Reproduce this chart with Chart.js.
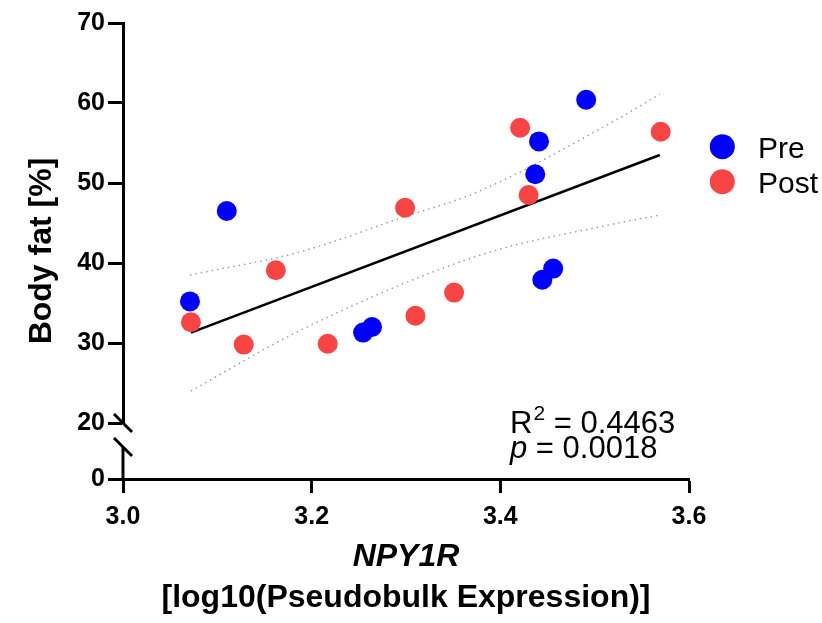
<!DOCTYPE html>
<html>
<head>
<meta charset="utf-8">
<script src="https://cdn.jsdelivr.net/npm/chart.js@4"></script>
<style>
    html, body { margin: 0; padding: 0; background: #fff; }
    #wrap { width: 822px; height: 623px; position: relative; }
</style>
</head>
<body>
<div id="wrap"><canvas id="chart"></canvas></div>
<script>
// Values
const preX  = [3.071, 3.110, 3.2545, 3.264, 3.441, 3.437, 3.491, 3.4445, 3.456];
const preY  = [35.2, 46.5, 31.3, 32.0, 55.2, 51.1, 60.4, 37.9, 39.3];
const postX = [3.072, 3.128, 3.162, 3.217, 3.299, 3.310, 3.351, 3.421, 3.430, 3.570];
const postY = [32.6, 29.8, 39.1, 29.9, 46.9, 33.4, 36.3, 56.9, 48.5, 56.4];

// regression line and 95% band, read at a few x positions
const fitX   = [3.072, 3.569];
const fitY   = [31.3, 53.5];
const upperX = [3.071, 3.188, 3.294, 3.376, 3.517, 3.569];
const upperY = [38.5, 41.4, 45.6, 48.9, 57.5, 61.1];
const lowerX = [3.072, 3.190, 3.379, 3.517, 3.569];
const lowerY = [24.0, 31.7, 41.0, 44.8, 46.0];

const xTicks = [3.0, 3.2, 3.4, 3.6];
const yTicks = [20, 30, 40, 50, 60, 70];
const yLowTicks = [0];
const lowSegmentTop = 4;   // where the short lower axis piece stops

const seriesNames = ['Pre', 'Post'];
const seriesColors = ['#0000ff', '#f94444'];
const yTitle = 'Body fat [%]';
const xTitle1 = 'NPY1R';
const xTitle2 = '[log10(Pseudobulk Expression)]';
const r2Text = '0.4463';
const pText = '0.0018';

const FONT = '"Liberation Sans", Arial, sans-serif';

const pts = (xs, ys) => xs.map((x, i) => ({ x: x, y: ys[i] }));

// broken y axis: lower piece plus the two slashes
const axisBreak = {
    id: 'axisBreak',
    afterDraw(chart) {
        const ctx = chart.ctx;
        const low = chart.scales.yLow;
        const top = chart.scales.y;
        const x = top.right;
        const y0 = low.getPixelForValue(0);
        const yEnd = low.getPixelForValue(lowSegmentTop);
        const yBreak = top.getPixelForValue(yTicks[0]);
        ctx.save();
        ctx.strokeStyle = '#000';
        ctx.lineWidth = 3;
        ctx.beginPath();
        ctx.moveTo(x, y0);
        ctx.lineTo(x, yEnd);
        ctx.stroke();
        [yBreak, yEnd].forEach(py => {
            ctx.beginPath();
            ctx.moveTo(x - 9, py - 9);
            ctx.lineTo(x + 9, py + 9);
            ctx.stroke();
        });
        ctx.restore();
    }
};

// titles, legend and stats text
const labels = {
    id: 'labels',
    afterDraw(chart) {
        const { ctx, chartArea } = chart;
        ctx.save();
        ctx.fillStyle = '#000';

        // y title
        ctx.save();
        ctx.translate(42, (chartArea.top + chartArea.bottom) / 2);
        ctx.rotate(-Math.PI / 2);
        ctx.font = 'bold 32px ' + FONT;
        ctx.textAlign = 'center';
        ctx.textBaseline = 'middle';
        ctx.fillText(yTitle, 0, 0);
        ctx.restore();

        // x title, two lines
        const cx = (chartArea.left + chartArea.right) / 2;
        ctx.textAlign = 'center';
        ctx.textBaseline = 'alphabetic';
        ctx.font = 'italic bold 32px ' + FONT;
        ctx.fillText(xTitle1, cx, 566);
        ctx.font = 'bold 32px ' + FONT;
        ctx.fillText(xTitle2, cx, 607);

        // legend
        ctx.textAlign = 'left';
        seriesNames.forEach((name, i) => {
            const cy = 146.7 + i * 35;
            ctx.fillStyle = seriesColors[i];
            ctx.beginPath();
            ctx.arc(722.3, cy, 12.5, 0, Math.PI * 2);
            ctx.fill();
            ctx.fillStyle = '#000';
            ctx.font = '30px ' + FONT;
            ctx.fillText(name, 758, cy + 11);
        });

        // R^2 and p
        let tx = 510;
        ctx.font = '31px ' + FONT;
        ctx.fillText('R', tx, 433.3);
        tx += ctx.measureText('R').width;
        ctx.font = '21px ' + FONT;
        ctx.fillText('2', tx + 1, 419.5);
        tx += ctx.measureText('2').width + 1;
        ctx.font = '31px ' + FONT;
        ctx.fillText(' = ' + r2Text, tx, 433.3);

        tx = 510;
        ctx.font = 'italic 31px ' + FONT;
        ctx.fillText('p', tx, 458.3);
        tx += ctx.measureText('p').width;
        ctx.font = '31px ' + FONT;
        ctx.fillText(' = ' + pText, tx, 458.3);

        ctx.restore();
    }
};

const tickFont = { family: FONT, size: 25, weight: 'bold' };

const tickGrid = len => ({
    display: true,
    drawOnChartArea: false,
    drawTicks: true,
    tickLength: len,
    tickWidth: 3,
    tickColor: '#000'
});

const bandStyle = {
    showLine: true,
    borderColor: '#a0a0a0',
    borderWidth: 1.5,
    borderDash: [1.5, 4],
    cubicInterpolationMode: 'monotone',
    pointRadius: 0,
    yAxisID: 'y',
    order: 3
};

new Chart(document.getElementById('chart'), {
    type: 'scatter',
    data: {
        datasets: [
            {
                label: seriesNames[0],
                data: pts(preX, preY),
                backgroundColor: seriesColors[0],
                borderWidth: 0,
                pointRadius: 10,
                yAxisID: 'y',
                order: 1
            },
            {
                label: seriesNames[1],
                data: pts(postX, postY),
                backgroundColor: seriesColors[1],
                borderWidth: 0,
                pointRadius: 10,
                yAxisID: 'y',
                order: 0
            },
            {
                label: 'fit',
                data: pts(fitX, fitY),
                showLine: true,
                borderColor: '#000',
                borderWidth: 2.5,
                pointRadius: 0,
                yAxisID: 'y',
                order: 2
            },
            Object.assign({ label: 'upper', data: pts(upperX, upperY) }, bandStyle),
            Object.assign({ label: 'lower', data: pts(lowerX, lowerY) }, bandStyle)
        ]
    },
    options: {
        responsive: true,
        maintainAspectRatio: false,
        animation: false,
        layout: { padding: { top: 23, right: 133, bottom: 94, left: 0 } },
        plugins: {
            legend: { display: false },
            tooltip: { enabled: false }
        },
        scales: {
            x: {
                type: 'linear',
                position: 'bottom',
                min: xTicks[0],
                max: xTicks[xTicks.length - 1],
                afterBuildTicks: s => { s.ticks = xTicks.map(v => ({ value: v })); },
                afterFit: s => { s.height = 50; },
                ticks: {
                    color: '#000',
                    font: tickFont,
                    padding: 9,
                    maxRotation: 0,
                    callback: v => v.toFixed(1)
                },
                grid: tickGrid(14),
                border: { display: true, color: '#000', width: 3 }
            },
            yLow: {
                type: 'linear',
                axis: 'y',
                position: 'left',
                stack: 'bodyfat',
                stackWeight: 56,
                min: 0,
                max: 7,
                afterBuildTicks: s => { s.ticks = yLowTicks.map(v => ({ value: v })); },
                afterFit: s => { s.width = 123; },
                ticks: { color: '#000', font: tickFont, padding: 3 },
                grid: tickGrid(15),
                border: { display: false }
            },
            y: {
                type: 'linear',
                position: 'left',
                stack: 'bodyfat',
                stackWeight: 400,
                min: yTicks[0],
                max: yTicks[yTicks.length - 1],
                afterBuildTicks: s => { s.ticks = yTicks.map(v => ({ value: v })); },
                afterFit: s => { s.width = 123; },
                ticks: { color: '#000', font: tickFont, padding: 3 },
                grid: tickGrid(15),
                border: { display: true, color: '#000', width: 3 }
            }
        }
    },
    plugins: [axisBreak, labels]
});
</script>
</body>
</html>
